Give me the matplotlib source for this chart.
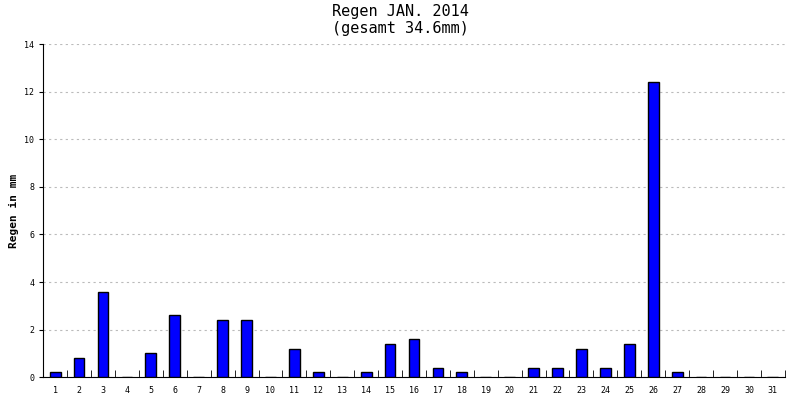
import matplotlib
matplotlib.use("Agg")
import matplotlib.pyplot as plt

days = list(range(1, 32))
rain = [0.2, 0.8, 3.6, 0, 1.0, 2.6, 0, 2.4, 2.4, 0, 1.2, 0.2, 0, 0.2, 1.4, 1.6, 0.4, 0.2,
        0, 0, 0.4, 0.4, 1.2, 0.4, 1.4, 12.4, 0.2, 0, 0, 0, 0]
yticks = [0, 2, 4, 6, 8, 10, 12, 14]
title = "Regen JAN. 2014\n(gesamt 34.6mm)"
ylabel = "Regen in mm"

fig = plt.figure(figsize=(8, 4), dpi=100)
ax = fig.add_axes([0.054, 0.057, 0.927, 0.833])
ax.bar(days, rain, width=0.45, color="#0000ff", edgecolor="black", linewidth=1, zorder=3)
ax.set_xlim(0.5, 31.5)
ax.set_ylim(0, 14)
ax.set_yticks(yticks)
ax.set_yticklabels([str(t) for t in yticks], fontsize=6, family="DejaVu Sans Mono")
ax.set_xticks(days)
ax.set_xticklabels([str(d) for d in days], fontsize=6, family="DejaVu Sans Mono")
ax.set_xticks([d + 0.5 for d in range(0, 32)], minor=True)
ax.tick_params(axis="x", which="major", length=0, pad=6)
ax.tick_params(axis="x", which="minor", length=5, direction="in")
ax.tick_params(axis="y", length=3)
ax.grid(axis="y", linestyle=(0, (2, 3)), color="#bbbbbb", linewidth=0.8, zorder=0)
for s in ["top", "right"]:
    ax.spines[s].set_visible(False)
ax.set_ylabel(ylabel, fontsize=8, family="DejaVu Sans Mono", fontweight="bold")
fig.suptitle(title, fontsize=11, family="DejaVu Sans Mono", y=0.99)
fig.savefig("out.png", dpi=100)
